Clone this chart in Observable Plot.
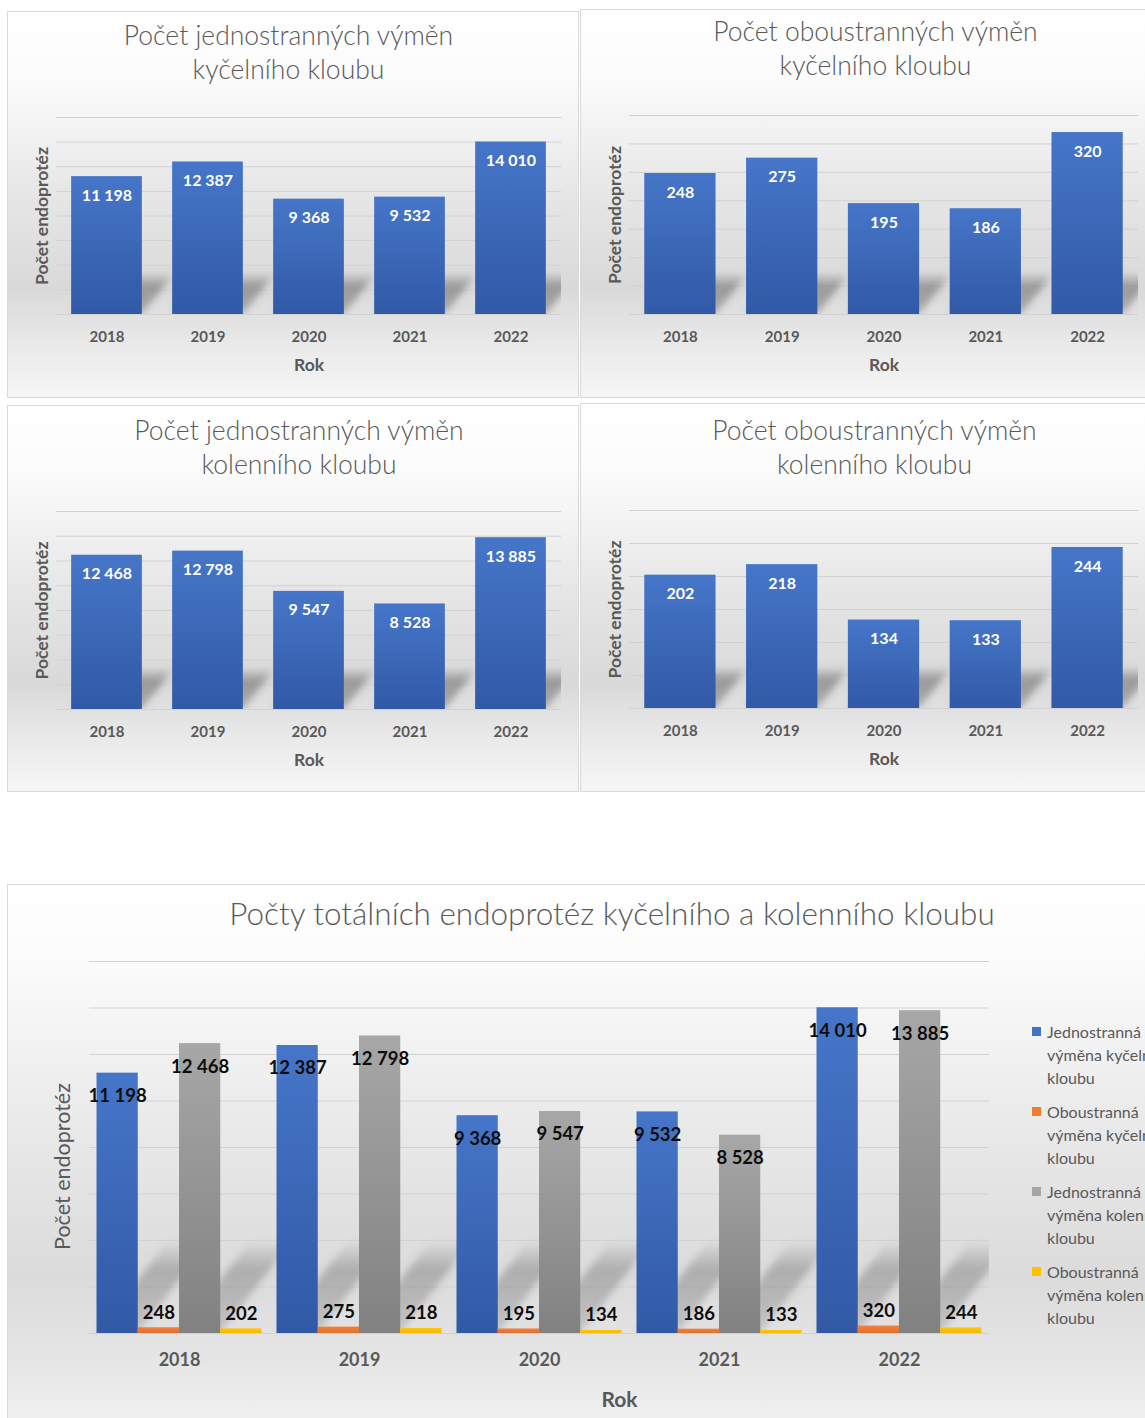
<!DOCTYPE html>
<html>
<head>
<meta charset="utf-8">
<script src="https://cdn.jsdelivr.net/npm/d3@7"></script>
<script src="https://cdn.jsdelivr.net/npm/@observablehq/plot@0.6"></script>
<style>
  html, body { margin: 0; padding: 0; }
  body { width: 1145px; height: 1418px; overflow: hidden; position: relative; background: #ffffff;
         font-family: Lato, "Open Sans", "Noto Sans", sans-serif; }
  .panel { position: absolute; box-sizing: border-box; border: 1px solid #d9d9d9; overflow: hidden;
           background: linear-gradient(180deg, #ffffff 0%, #fbfbfb 18%, #e6e6e6 48%, #d9d9d9 72%, #e9e9e9 86%, #f6f6f6 100%); }
  .title { position: absolute; width: 800px; text-align: center; color: #595959; font-weight: 300; white-space: nowrap; }
  .chart { position: absolute; left: 0; }
  .legend { position: absolute; color: #595959; font-size: 16px; line-height: 23px; }
  .legend .item { position: relative; width: 140px; padding-left: 16px; margin-bottom: 11px; }
  .legend .sw { position: absolute; left: 1px; top: 7px; width: 9px; height: 9px; }
</style>
</head>
<body>
<svg width="0" height="0" style="position:absolute">
  <defs>
    <linearGradient id="blueGrad" x1="0" y1="0" x2="0" y2="1">
      <stop offset="0" stop-color="#4676c9"/>
      <stop offset="1" stop-color="#3159a6"/>
    </linearGradient>
    <linearGradient id="grayGrad" x1="0" y1="0" x2="0" y2="1">
      <stop offset="0" stop-color="#a7a7a7"/>
      <stop offset="1" stop-color="#818181"/>
    </linearGradient>
    <linearGradient id="orangeGrad" x1="0" y1="0" x2="0" y2="1">
      <stop offset="0" stop-color="#f08040"/>
      <stop offset="1" stop-color="#e0702a"/>
    </linearGradient>
    <linearGradient id="yellowGrad" x1="0" y1="0" x2="0" y2="1">
      <stop offset="0" stop-color="#ffc514"/>
      <stop offset="1" stop-color="#f5b800"/>
    </linearGradient>
    <linearGradient id="shadowGrad" x1="0" y1="0" x2="0" y2="1">
      <stop offset="0" stop-color="#6e6e6e" stop-opacity="0.08"/>
      <stop offset="0.3" stop-color="#6e6e6e" stop-opacity="0.6"/>
      <stop offset="1" stop-color="#6e6e6e" stop-opacity="0.45"/>
    </linearGradient>
    <linearGradient id="shadowGradMain" x1="0" y1="0" x2="0" y2="1">
      <stop offset="0" stop-color="#6a6a6a" stop-opacity="0.04"/>
      <stop offset="0.3" stop-color="#6a6a6a" stop-opacity="0.4"/>
      <stop offset="1" stop-color="#6a6a6a" stop-opacity="0.25"/>
    </linearGradient>
    <filter id="blurS" x="-50%" y="-50%" width="200%" height="200%">
      <feGaussianBlur stdDeviation="3.5"/>
    </filter>
  </defs>
</svg>
<div id="root"></div>
<script>
// ---------- data ----------
const years = ["2018", "2019", "2020", "2021", "2022"];
const hipUni  = [11198, 12387, 9368, 9532, 14010];
const hipBi   = [248, 275, 195, 186, 320];
const kneeUni = [12468, 12798, 9547, 8528, 13885];
const kneeBi  = [202, 218, 134, 133, 244];

const ticksUni    = [0, 2000, 4000, 6000, 8000, 10000, 12000, 14000, 16000];
const ticksHipBi  = [0, 50, 100, 150, 200, 250, 300, 350];
const ticksKneeBi = [0, 50, 100, 150, 200, 250, 300];

const titleHipUni  = ["Počet jednostranných výměn", "kyčelního kloubu"];
const titleHipBi   = ["Počet oboustranných výměn", "kyčelního kloubu"];
const titleKneeUni = ["Počet jednostranných výměn", "kolenního kloubu"];
const titleKneeBi  = ["Počet oboustranných výměn", "kolenního kloubu"];
const mainTitle = "Počty totálních endoprotéz kyčelního a kolenního kloubu";
const xLabel = "Rok";
const yLabel = "Počet endoprotéz";
const seriesNames = [
  "Jednostranná výměna kyčelního kloubu",
  "Oboustranná výměna kyčelního kloubu",
  "Jednostranná výměna kolenního kloubu",
  "Oboustranná výměna kolenního kloubu"
];
const seriesValues = [hipUni, hipBi, kneeUni, kneeBi];

// ---------- styling ----------
const FONT = 'Lato, "Open Sans", "Noto Sans", sans-serif';
const seriesFills = ["url(#blueGrad)", "url(#orangeGrad)", "url(#grayGrad)", "url(#yellowGrad)"];
const seriesSwatch = ["#4472c4", "#ed7d31", "#a5a5a5", "#ffc000"];
const fmt = d3.formatLocale({decimal: ",", thousands: "\u00a0", grouping: [3], currency: ["", " Kč"]}).format(",d");
let clipCount = 0;

function shadowMark(getRects, h, s, grad) {
  return (index, scales, values, dims) => {
    const g = d3.create("svg:g");
    const id = "shclip" + (++clipCount);
    g.append("clipPath").attr("id", id).append("rect")
      .attr("x", dims.marginLeft).attr("y", dims.marginTop)
      .attr("width", dims.width - dims.marginLeft - dims.marginRight)
      .attr("height", dims.height - dims.marginTop - dims.marginBottom);
    const inner = g.append("g").attr("clip-path", `url(#${id})`).append("g").attr("filter", "url(#blurS)");
    const y0 = scales.y(0);
    for (const [x1, x2] of getRects(scales)) {
      inner.append("path")
        .attr("d", `M${x1},${y0}L${x2},${y0}L${x2 + s},${y0 - h}L${x1 + s},${y0 - h}Z`)
        .attr("fill", `url(#${grad})`);
    }
    return g.node();
  };
}

const root = document.getElementById("root");
function panel(left, top, width, height) {
  const d = document.createElement("div");
  d.className = "panel";
  Object.assign(d.style, {left: left + "px", top: top + "px", width: width + "px", height: height + "px"});
  root.appendChild(d);
  return d;
}
function addTitle(p, lines, cx, top, size, lh) {
  const t = document.createElement("div");
  t.className = "title";
  Object.assign(t.style, {left: (cx - 400) + "px", top: top + "px", fontSize: size + "px", lineHeight: lh + "px"});
  t.innerHTML = lines.join("<br>");
  p.appendChild(t);
}

// ---------- small charts ----------
const smallCharts = [
  {box: [7, 11, 572, 387], title: titleHipUni, titleCx: 287.5, titleTop: 18, values: hipUni, max: 16000, ticks: ticksUni,
   frame: {left: 55, right: 560, top: 116, bottom: 313}},
  {box: [580, 9, 580, 389], title: titleHipBi, titleCx: 874.5, titleTop: 14, values: hipBi, max: 350, ticks: ticksHipBi,
   frame: {left: 628, right: 1137, top: 114, bottom: 313}},
  {box: [7, 405, 572, 387], title: titleKneeUni, titleCx: 298, titleTop: 413, values: kneeUni, max: 16000, ticks: ticksUni,
   frame: {left: 55, right: 560, top: 510, bottom: 708}},
  {box: [580, 403, 580, 389], title: titleKneeBi, titleCx: 873.5, titleTop: 413, values: kneeBi, max: 300, ticks: ticksKneeBi,
   frame: {left: 628, right: 1137, top: 509, bottom: 707}}
];

for (const c of smallCharts) {
  const [bx, by, bw, bh] = c.box;
  const p = panel(bx, by, bw, bh);
  addTitle(p, c.title, c.titleCx - bx, c.titleTop - by - 1, 26.5, 34);
  const data = years.map((y, i) => ({year: y, value: c.values[i]}));
  const W = Math.min(bw, 1145 - bx);
  const mt = 20, mb = 70;
  const chart = Plot.plot({
    width: W,
    height: (c.frame.bottom - c.frame.top) + mt + mb,
    marginLeft: c.frame.left - bx,
    marginRight: bx + W - c.frame.right,
    marginTop: mt,
    marginBottom: mb,
    style: {background: "transparent", fontFamily: FONT, overflow: "visible", maxWidth: "none"},
    x: {type: "band", domain: years, paddingInner: 0.3, paddingOuter: 0.15, round: false, axis: null},
    y: {domain: [0, c.max], axis: null},
    marks: [
      Plot.ruleY(c.ticks, {stroke: "#d2d2d2", strokeWidth: 1}),
      shadowMark(sc => data.map(d => [sc.x(d.year), sc.x(d.year) + sc.x.bandwidth()]), 40, 32, "shadowGrad"),
      Plot.barY(data, {x: "year", y: "value", fill: "url(#blueGrad)"}),
      Plot.text(data, {x: "year", y: "value", text: d => fmt(d.value), dy: 19, fill: "white",
                       fontWeight: "bold", fontSize: 16}),
      Plot.axisX({tickSize: 0, tickPadding: 17, fontSize: 15, fontWeight: "bold", color: "#595959", label: null}),
      Plot.text([xLabel], {text: d => d, frameAnchor: "bottom", lineAnchor: "middle", dy: 51, fontSize: 17.5,
                           fontWeight: "bold", fill: "#595959"}),
      Plot.text([yLabel], {text: d => d, frameAnchor: "left", textAnchor: "middle", lineAnchor: "middle",
                           rotate: -90, dx: -14, fontSize: 17.5, fontWeight: "bold", fill: "#595959"})
    ]
  });
  chart.classList.add("chart");
  chart.style.top = (c.frame.top - mt - by) + "px";
  p.appendChild(chart);
}

// ---------- main grouped chart ----------
const mainBox = [7, 884, 1160, 546];
const mainFrame = {left: 88, right: 988, top: 960, bottom: 1332};
const mp = panel(...mainBox);
mp.style.background = "linear-gradient(180deg, #ffffff 0%, #fbfbfb 14%, #e9e9e9 45%, #dbdbdb 72%, #e6e6e6 88%, #f2f2f2 100%)";
addTitle(mp, [mainTitle], 611 - mainBox[0], 890 - mainBox[1], 31.5, 44);

const mainData = [];
seriesNames.forEach((s, si) => years.forEach((y, yi) => mainData.push({year: y, series: s, si, value: seriesValues[si][yi]})));

const MW = 1145 - mainBox[0];
const mmt = 20, mmb = 80;
const mH = (mainFrame.bottom - mainFrame.top) + mmt + mmb;
const mCommon = {
  width: MW, height: mH,
  marginLeft: mainFrame.left - mainBox[0], marginRight: mainBox[0] + MW - mainFrame.right,
  marginTop: mmt, marginBottom: mmb,
  style: {background: "transparent", fontFamily: FONT, overflow: "visible", maxWidth: "none"},
  y: {domain: [0, 16000], axis: null}
};

const bgPlot = Plot.plot({
  ...mCommon,
  x: {type: "band", domain: years, paddingInner: 0.0833, paddingOuter: 0.0417, round: false, axis: null},
  marks: [
    Plot.ruleY(ticksUni, {stroke: "#d2d2d2", strokeWidth: 1}),
    shadowMark(sc => mainData.filter(d => d.si === 0 || d.si === 2).map(d => {
      const bw = sc.x.bandwidth() / seriesNames.length;
      const x1 = sc.x(d.year) + d.si * bw;
      return [x1, x1 + bw];
    }), 90, 70, "shadowGradMain"),
    Plot.axisX({tickSize: 0, tickPadding: 20, fontSize: 18, fontWeight: "bold", color: "#595959", label: null}),
    Plot.text([xLabel], {text: d => d, frameAnchor: "bottom", lineAnchor: "middle", dy: 67, dx: 80, fontSize: 21,
                         fontWeight: "bold", fill: "#595959"}),
    Plot.text([yLabel], {text: d => d, frameAnchor: "left", textAnchor: "middle", lineAnchor: "middle",
                         rotate: -90, dx: -26, dy: 19, fontSize: 21.5, fill: "#595959"})
  ]
});
bgPlot.classList.add("chart");
bgPlot.style.top = (mainFrame.top - mmt - mainBox[1]) + "px";
mp.appendChild(bgPlot);

const fgMarks = [];
seriesNames.forEach((s, si) => {
  const sub = mainData.filter(d => d.si === si);
  fgMarks.push(Plot.barY(sub, {fx: "year", x: "series", y: "value", fill: seriesFills[si]}));
});
seriesNames.forEach((s, si) => {
  const sub = mainData.filter(d => d.si === si);
  const big = si === 0 || si === 2;
  fgMarks.push(Plot.text(sub, {fx: "year", x: "series", y: "value", text: d => fmt(d.value),
    dy: big ? 23 : -15, fill: "#0d0d0d", fontWeight: "bold", fontSize: 18.5}));
});
const fgPlot = Plot.plot({
  ...mCommon,
  fx: {domain: years, paddingInner: 0.0833, paddingOuter: 0.0417, round: false, axis: null},
  x: {domain: seriesNames, padding: 0, round: false, axis: null},
  marks: fgMarks
});
fgPlot.classList.add("chart");
fgPlot.style.top = (mainFrame.top - mmt - mainBox[1]) + "px";
mp.appendChild(fgPlot);

// legend
const lg = document.createElement("div");
lg.className = "legend";
Object.assign(lg.style, {left: (1030 - mainBox[0]) + "px", top: (1019 - mainBox[1]) + "px"});
seriesNames.forEach((s, i) => {
  const it = document.createElement("div");
  it.className = "item";
  const sw = document.createElement("span");
  sw.className = "sw";
  sw.style.background = seriesSwatch[i];
  it.appendChild(sw);
  it.appendChild(document.createTextNode(s));
  lg.appendChild(it);
});
mp.appendChild(lg);
</script>
</body>
</html>
